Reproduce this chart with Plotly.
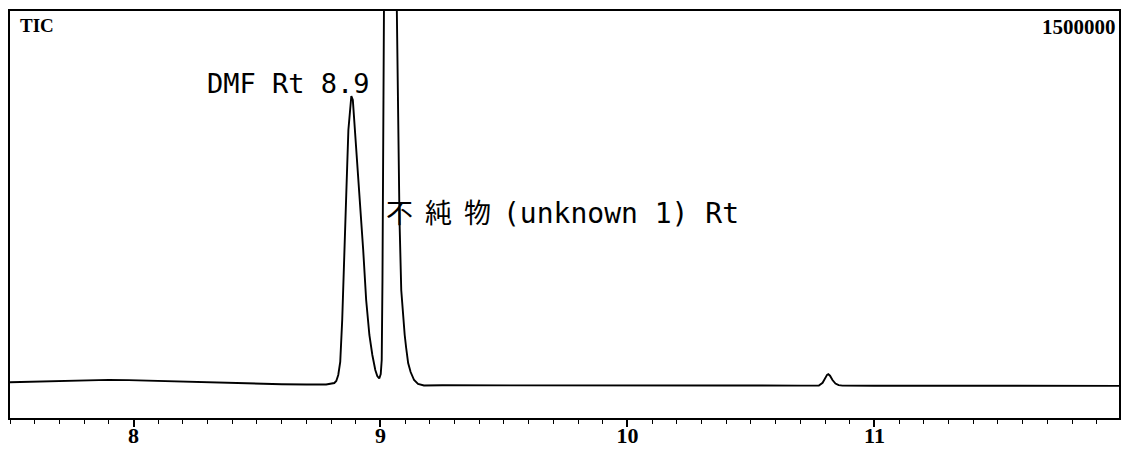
import plotly.graph_objects as go

# Retention time (min) and total ion current for the TIC trace
rt_min = [
    7.50, 7.58, 7.66, 7.74, 7.82, 7.90, 7.98, 8.06, 8.14, 8.22, 8.30, 8.40,
    8.50, 8.60, 8.70, 8.78, 8.813, 8.821, 8.829, 8.837, 8.845, 8.854, 8.862,
    8.870, 8.878, 8.882, 8.888, 8.898, 8.906, 8.918, 8.930, 8.942, 8.955,
    8.967, 8.979, 8.987, 8.995, 9.001, 9.005, 9.008, 9.011, 9.014, 9.023,
    9.031, 9.039, 9.047, 9.055, 9.066, 9.071, 9.077, 9.084, 9.092, 9.098,
    9.104, 9.112, 9.122, 9.136, 9.152, 9.176, 9.25, 9.50, 9.80, 10.10,
    10.40, 10.70, 10.775, 10.790, 10.800, 10.808, 10.813, 10.820, 10.830,
    10.842, 10.855, 10.870, 11.00, 11.30, 11.60, 11.99,
]
tic = [
    132000, 134000, 137000, 139000, 140000, 140500, 139500, 137500, 135000,
    132000, 129500, 127000, 125500, 124500, 123500, 123500, 129000, 136400,
    158500, 206400, 361200, 582300, 840300, 1061400, 1172000, 1186700,
    1172000, 1043000, 932400, 803400, 619200, 434900, 305900, 232200,
    176900, 154800, 145600, 162200, 213800, 508600, 950900, 1500000,
    2150000, 2900000, 3200000, 2950000, 2300000, 1500000, 1098300, 729700,
    471700, 361200, 305900, 258000, 202700, 169500, 140000, 125300, 119800,
    120500, 121000, 121000, 120500, 120000, 119500, 120000, 130000, 148000,
    159000, 161500, 156000, 140000, 127000, 121000, 119500, 119000, 118500,
    118500, 118500,
]

x_range = [7.5, 11.99]
y_full_scale = 1500000
tick_values = [8, 9, 10, 11]
tick_text = ["8", "9", "10", "11"]

fig = go.Figure()
fig.add_trace(go.Scatter(
    x=rt_min, y=tic, mode="lines",
    line=dict(color="black", width=1.9),
    hoverinfo="skip", showlegend=False,
))

mono = "DejaVu Sans Mono, Noto Sans CJK JP"
serif = "Liberation Serif, Times New Roman, serif"

fig.add_annotation(x=8.289, y=1232800, xref="x", yref="y", text="DMF Rt 8.9",
                   showarrow=False, xanchor="left", yanchor="middle",
                   font=dict(family=mono, size=27, color="black"))
fig.add_annotation(
    x=9.016, y=762000, xref="x", yref="y",
    text=('<span style="font-family:\'Noto Sans CJK JP\';font-size:27px;'
          'letter-spacing:12px">不純物</span>(unknown 1) Rt'),
    showarrow=False, xanchor="left", yanchor="middle",
    font=dict(family=mono, size=28, color="black"),
)
fig.add_annotation(x=0.007, y=0.995, xref="paper", yref="paper", text="TIC",
                   showarrow=False, xanchor="left", yanchor="top",
                   font=dict(family=serif, size=19, color="black", weight="bold"))
fig.add_annotation(x=0.999, y=0.995, xref="paper", yref="paper", text=f"{y_full_scale}",
                   showarrow=False, xanchor="right", yanchor="top",
                   font=dict(family=serif, size=21, color="black", weight="bold"))

fig.update_layout(
    width=1121, height=452,
    margin=dict(l=10, r=2, t=11, b=34),
    paper_bgcolor="white", plot_bgcolor="white",
    xaxis=dict(
        range=x_range, showgrid=False, zeroline=False, automargin=False,
        showline=True, mirror=True, linecolor="black", linewidth=1.6,
        tickmode="array", tickvals=tick_values, ticktext=tick_text,
        ticks="outside", ticklen=7, tickwidth=1.5, tickcolor="black",
        ticklabelstandoff=-10,
        tickfont=dict(family=serif, size=22, color="black", weight="bold"),
        minor=dict(dtick=0.1, tick0=7.5, ticks="outside", ticklen=4,
                   tickwidth=1.2, tickcolor="black", showgrid=False),
    ),
    yaxis=dict(
        range=[0, y_full_scale], showgrid=False, zeroline=False, automargin=False,
        showline=True, mirror=True, linecolor="black", linewidth=1.6,
        showticklabels=False, ticks="",
    ),
)

fig.write_html("out.html")
